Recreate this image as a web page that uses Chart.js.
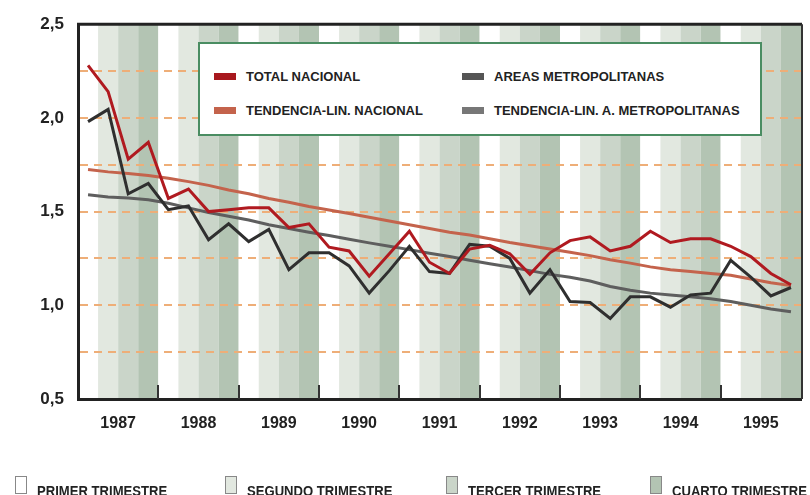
<!DOCTYPE html>
<html>
<head>
<meta charset="utf-8">
<script src="https://cdn.jsdelivr.net/npm/chart.js@4.4.0/dist/chart.umd.min.js"></script>
<style>
  body { margin: 0; background: #fff; font-family: "Liberation Sans", Arial, sans-serif; }
  #wrap { position: relative; width: 810px; height: 495px; overflow: hidden; }
  #wrap canvas { position: absolute; left: 0; top: 0; }
  .leyenda { position: absolute; left: 198px; top: 42px; width: 560px; height: 90px;
             background: #fff; border: 2px solid #4a8d62; }
  .item { position: absolute; font-weight: bold; font-size: 13px; color: #222; white-space: nowrap; }
  .item i { position: absolute; left: -32px; top: 4px; width: 22px; height: 7px; }
  .trim { position: absolute; top: 476px; font-weight: bold; font-size: 14px; color: #222; white-space: nowrap; }
  .trim i { position: absolute; left: -22px; top: 0; width: 10px; height: 16px; border: 1px solid #888; }
  .trim span { position: absolute; left: 0; top: 7px; transform: scaleX(0.935); transform-origin: 0 0; }
</style>
</head>
<body>
<div id="wrap">
  <canvas id="grafico" width="810" height="495"></canvas>
  <div class="leyenda">
    <div class="item" style="left:46px;top:25px"><i style="background:#a8181e"></i>TOTAL NACIONAL</div>
    <div class="item" style="left:294px;top:25px"><i style="background:#555"></i>AREAS METROPOLITANAS</div>
    <div class="item" style="left:46px;top:59px"><i style="background:#c4634c"></i>TENDENCIA-LIN. NACIONAL</div>
    <div class="item" style="left:294px;top:59px"><i style="background:#777"></i>TENDENCIA-LIN. A. METROPOLITANAS</div>
  </div>
  <div class="trim" style="left:37px"><i style="background:#fff"></i><span>PRIMER TRIMESTRE</span></div>
  <div class="trim" style="left:247px"><i style="background:#e2e8e0"></i><span>SEGUNDO TRIMESTRE</span></div>
  <div class="trim" style="left:468px"><i style="background:#cad5c9"></i><span>TERCER TRIMESTRE</span></div>
  <div class="trim" style="left:672px"><i style="background:#b3c4b3"></i><span>CUARTO TRIMESTRE</span></div>
</div>
<script>
// Años y colores de trimestre
const years = ['1987', '1988', '1989', '1990', '1991', '1992', '1993', '1994', '1995'];
const coloresTrimestre = ['#ffffff', '#e2e8e0', '#cad5c9', '#b3c4b3'];

// Series trimestrales (36 valores, 1987 T1 .. 1995 T4)
const totalNacional = [
  2.28, 2.14, 1.78, 1.87,
  1.57, 1.62, 1.50, 1.51,
  1.52, 1.52, 1.415, 1.435,
  1.31, 1.29, 1.155, 1.275,
  1.395, 1.23, 1.17, 1.30,
  1.32, 1.275, 1.165, 1.28,
  1.345, 1.365, 1.29, 1.315,
  1.395, 1.335, 1.355, 1.355,
  1.315, 1.26, 1.17, 1.11
];
const areasMetro = [
  1.98, 2.045, 1.595, 1.65,
  1.51, 1.53, 1.35, 1.435,
  1.34, 1.405, 1.19, 1.28,
  1.28, 1.21, 1.065, 1.185,
  1.315, 1.18, 1.17, 1.325,
  1.315, 1.25, 1.065, 1.19,
  1.02, 1.015, 0.93, 1.045,
  1.045, 0.99, 1.055, 1.065,
  1.24, 1.15, 1.05, 1.095
];
const tendNacional = [
  1.725, 1.712, 1.703, 1.693,
  1.678, 1.66, 1.64, 1.615,
  1.595, 1.57, 1.55, 1.527,
  1.509, 1.49, 1.47, 1.45,
  1.43, 1.41, 1.39, 1.375,
  1.355, 1.335, 1.318, 1.30,
  1.283, 1.265, 1.243, 1.225,
  1.205, 1.19, 1.18, 1.17,
  1.16, 1.14, 1.12, 1.105
];
const tendMetro = [
  1.59, 1.578, 1.572, 1.563,
  1.545, 1.52, 1.495, 1.475,
  1.455, 1.43, 1.41, 1.39,
  1.372, 1.352, 1.333, 1.315,
  1.297, 1.278, 1.26, 1.24,
  1.222, 1.204, 1.185, 1.165,
  1.15, 1.13, 1.10, 1.08,
  1.065, 1.055, 1.045, 1.035,
  1.02, 1.0, 0.98, 0.965
];

const aPuntos = arr => arr.map((v, i) => ({ x: i + 0.5, y: v }));

// Fondo con franjas por trimestre
const franjas = {
  id: 'franjas',
  beforeDraw(chart) {
    const { ctx, chartArea: a, scales: { x } } = chart;
    ctx.save();
    for (let q = 0; q < years.length * 4; q++) {
      const x1 = x.getPixelForValue(q), x2 = x.getPixelForValue(q + 1);
      ctx.fillStyle = coloresTrimestre[q % 4];
      ctx.fillRect(x1, a.top, x2 - x1, a.bottom - a.top);
    }
    ctx.restore();
  }
};

// Marco superior/derecho y marcas de año
const marco = {
  id: 'marco',
  afterDraw(chart) {
    const { ctx, chartArea: a, scales: { x } } = chart;
    ctx.save();
    ctx.strokeStyle = '#222';
    ctx.lineWidth = 3;
    ctx.beginPath();
    ctx.moveTo(a.left - 1, a.top);
    ctx.lineTo(a.right + 1, a.top);
    ctx.stroke();
    ctx.strokeStyle = '#333';
    ctx.lineWidth = 2;
    ctx.beginPath();
    ctx.moveTo(a.right + 1, a.top);
    ctx.lineTo(a.right + 1, a.bottom);
    ctx.stroke();
    ctx.lineWidth = 2;
    for (let k = 1; k < years.length; k++) {
      const px = Math.round(x.getPixelForValue(k * 4));
      ctx.beginPath();
      ctx.moveTo(px, a.bottom - 14);
      ctx.lineTo(px, a.bottom);
      ctx.stroke();
    }
    ctx.restore();
  }
};

const linea = (data, color) => ({
  data: aPuntos(data), borderColor: color, borderWidth: 3,
  pointRadius: 0, tension: 0, fill: false
});

new Chart(document.getElementById('grafico'), {
  type: 'line',
  data: {
    datasets: [
      linea(totalNacional, '#b01a20'),
      linea(areasMetro, '#2f2f2f'),
      linea(tendNacional, '#c4634c'),
      linea(tendMetro, '#5e5e5e')
    ]
  },
  options: {
    responsive: false,
    animation: false,
    layout: { padding: { top: 23, right: 9, left: 0, bottom: 0 } },
    plugins: { legend: { display: false }, tooltip: { enabled: false } },
    scales: {
      x: {
        type: 'linear', min: 0, max: years.length * 4,
        afterBuildTicks: s => { s.ticks = years.map((y, i) => ({ value: i * 4 + 2 })); },
        afterFit: s => { s.height = 96; },
        grid: { display: false },
        border: { color: '#222', width: 3 },
        ticks: {
          autoSkip: false, maxRotation: 0, padding: 7, color: '#222',
          font: { family: 'Liberation Sans', weight: 'bold', size: 16 },
          callback: v => years[(v - 2) / 4]
        }
      },
      y: {
        min: 0.5, max: 2.5,
        afterFit: s => { s.width = 78; },
        grid: {
          drawTicks: false, lineWidth: 2,
          color: c => (c.tick.value <= 0.5 || c.tick.value >= 2.5) ? 'rgba(0,0,0,0)' : '#eeae78'
        },
        border: { color: '#222', width: 3, dash: [8, 6] },
        ticks: {
          stepSize: 0.25, padding: 14, color: '#222',
          font: { family: 'Liberation Sans', weight: 'bold', size: 17 },
          callback: v => (Math.abs(v * 2 - Math.round(v * 2)) < 1e-6) ? v.toFixed(1).replace('.', ',') : ''
        }
      }
    }
  },
  plugins: [franjas, marco]
});
</script>
</body>
</html>
